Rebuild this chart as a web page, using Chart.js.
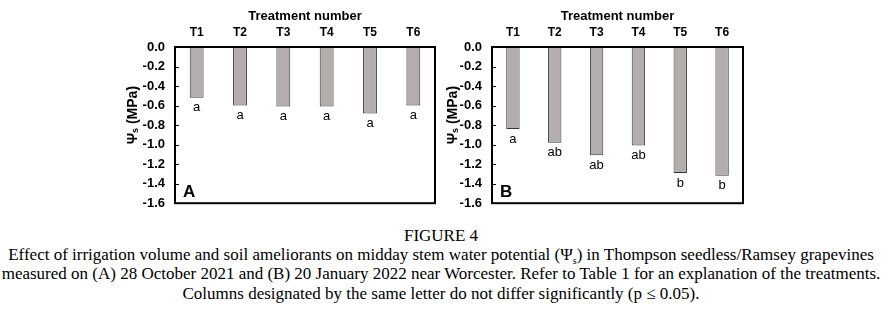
<!DOCTYPE html>
<html lang="en">
<head>
  <meta charset="UTF-8">
  <title>Figure 4 - Stem water potential</title>
  <script src="https://cdn.jsdelivr.net/npm/chart.js"></script>
  <style>
    body { margin: 0; background: #fff; }
    #wrap { position: relative; width: 882px; height: 310px; overflow: hidden; }
    canvas { position: absolute; top: 0; }
    #chartA { left: 120px; }
    #chartB { left: 440px; }
    .caption {
      position: absolute; left: 0; width: 882px; text-align: center;
      font-family: "Liberation Serif", "Times New Roman", serif; font-size: 17px; color: #000;
      white-space: nowrap;
    }
    .caption sub { font-size: 10px; }
  </style>
</head>
<body>
<div id="wrap">
  <canvas id="chartA" width="320" height="221"></canvas>
  <canvas id="chartB" width="320" height="221"></canvas>
  <div class="caption" style="top:226px">FIGURE 4</div>
  <div class="caption" style="top:245px">Effect of irrigation volume and soil ameliorants on midday stem water potential (Ψ<sub>s</sub>) in Thompson seedless/Ramsey grapevines</div>
  <div class="caption" style="top:264px">measured on (A) 28 October 2021 and (B) 20 January 2022 near Worcester. Refer to Table 1 for an explanation of the treatments.</div>
  <div class="caption" style="top:284px">Columns designated by the same letter do not differ significantly (p ≤ 0.05).</div>
</div>

<script>
  // data
  const treatments = ['T1', 'T2', 'T3', 'T4', 'T5', 'T6'];
  const yTicks = [0, -0.2, -0.4, -0.6, -0.8, -1.0, -1.2, -1.4, -1.6];
  const psiA = [-0.52, -0.60, -0.61, -0.61, -0.68, -0.60];
  const lettersA = ['a', 'a', 'a', 'a', 'a', 'a'];
  const psiB = [-0.84, -0.98, -1.11, -1.01, -1.29, -1.32];
  const lettersB = ['a', 'ab', 'ab', 'ab', 'b', 'b'];

  const fontFam = '"Liberation Sans", Arial, sans-serif';

  // frame, inner ticks, significance letters, panel letter and y title
  const decorate = {
    id: 'decorate',
    afterDraw(chart) {
      const ctx = chart.ctx;
      const a = chart.chartArea;
      const opt = chart.options.plugins.decorate;
      ctx.save();

      // letters under each bar
      const meta = chart.getDatasetMeta(0);
      ctx.fillStyle = '#000';
      ctx.font = '13px ' + fontFam;
      ctx.textAlign = 'center';
      ctx.textBaseline = 'middle';
      meta.data.forEach((bar, i) => {
        ctx.fillText(opt.letters[i], bar.x, bar.y + 10);
      });

      // panel letter
      ctx.font = 'bold 17px ' + fontFam;
      ctx.textAlign = 'left';
      ctx.fillText(opt.panel, a.left + 8, a.bottom - 11);

      // y axis title: Ψs (MPa)
      ctx.translate(13, (a.top + a.bottom) / 2 - 10);
      ctx.rotate(-Math.PI / 2);
      ctx.font = 'bold 14px ' + fontFam;
      const w1 = ctx.measureText('Ψ').width;
      ctx.font = 'bold 9px ' + fontFam;
      const w2 = ctx.measureText('s').width;
      ctx.font = 'bold 14px ' + fontFam;
      const w3 = ctx.measureText(' (MPa)').width;
      let x = -(w1 + w2 + w3) / 2;
      ctx.fillText('Ψ', x, 0);
      x += w1;
      ctx.font = 'bold 9px ' + fontFam;
      ctx.fillText('s', x, 3);
      x += w2;
      ctx.font = 'bold 14px ' + fontFam;
      ctx.fillText(' (MPa)', x, 0);
      ctx.restore();

      // plot frame with short inward ticks on the left
      ctx.save();
      ctx.strokeStyle = '#000';
      ctx.lineWidth = 2;
      ctx.strokeRect(a.left, a.top, a.right - a.left, a.bottom - a.top);
      ctx.lineWidth = 1;
      const ys = chart.scales.y;
      ctx.beginPath();
      yTicks.forEach(v => {
        const py = Math.round(ys.getPixelForValue(v)) + 0.5;
        ctx.moveTo(a.left, py);
        ctx.lineTo(a.left + 4, py);
      });
      ctx.stroke();
      ctx.restore();
    }
  };

  function makePanel(id, values, letters, panel, yWidth, rightPad) {
    new Chart(document.getElementById(id), {
      type: 'bar',
      data: {
        labels: treatments,
        datasets: [{
          data: values,
          backgroundColor: '#b3aeab',
          borderColor: '#383838',
          borderWidth: 1,
          categoryPercentage: 1,
          barPercentage: 0.32
        }]
      },
      options: {
        responsive: false,
        animation: false,
        layout: { padding: { left: 0, right: rightPad, top: 0, bottom: 3 } },
        plugins: {
          legend: { display: false },
          tooltip: { enabled: false },
          decorate: { letters: letters, panel: panel }
        },
        scales: {
          x: {
            position: 'top',
            grid: { display: false, drawTicks: false },
            border: { display: false },
            ticks: { color: '#000', font: { family: fontFam, size: 12, weight: 'bold' }, padding: 7 },
            title: {
              display: true, text: 'Treatment number', color: '#000',
              font: { family: fontFam, size: 13, weight: 'bold' },
              padding: { top: 9, bottom: 0 }
            },
            afterFit: s => { s.height = 47; }
          },
          y: {
            min: -1.6,
            max: 0,
            grid: { display: false, drawTicks: false },
            border: { display: false },
            afterBuildTicks: s => { s.ticks = yTicks.map(v => ({ value: v })); },
            ticks: {
              color: '#000', padding: 10,
              font: { family: fontFam, size: 13, weight: 'bold' },
              callback: v => Math.abs(v) < 1e-9 ? '0.0' : Number(v).toFixed(1)
            },
            afterFit: s => { s.width = yWidth; }
          }
        }
      },
      plugins: [decorate]
    });
  }

  makePanel('chartA', psiA, lettersA, 'A', 55, 5);
  makePanel('chartB', psiB, lettersB, 'B', 52, 17);
</script>
</body>
</html>
